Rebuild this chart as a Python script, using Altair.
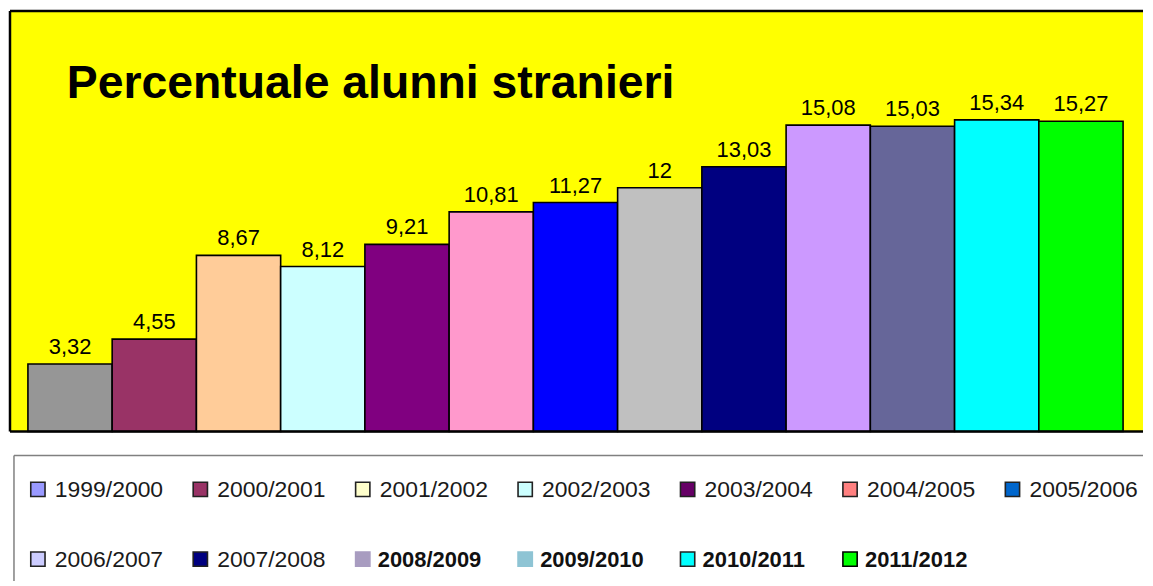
import altair as alt
import pandas as pd

years = ["1999/2000", "2000/2001", "2001/2002", "2002/2003", "2003/2004",
         "2004/2005", "2005/2006", "2006/2007", "2007/2008", "2008/2009",
         "2009/2010", "2010/2011", "2011/2012"]
values = [3.32, 4.55, 8.67, 8.12, 9.21, 10.81, 11.27, 12, 13.03, 15.08,
          15.03, 15.34, 15.27]
bar_colors = ["#969696", "#993366", "#FFCC99", "#CCFFFF", "#800080",
              "#FF99CC", "#0000FF", "#C0C0C0", "#000080", "#CC99FF",
              "#666699", "#00FFFF", "#00FF00"]
legend_colors = ["#9999FF", "#993366", "#FFFFCC", "#CCFFFF", "#660066",
                 "#FF8080", "#0066CC", "#CCCCFF", "#000080", "#A89CC0",
                 "#8EC4D4", "#00FFFF", "#00FF00"]
legend_border = ["#222222", "#222222", "#222222", "#222222", "#222222",
                 "#222222", "#222222", "#222222", "#222222", "#A89CC0",
                 "#8EC4D4", "#222222", "#000000"]
legend_bold = [False] * 9 + [True] * 4
legend_col = [0, 1, 2, 3, 4, 5, 6, 0, 1, 2, 3, 4, 5]
legend_row = [0, 0, 0, 0, 0, 0, 0, 1, 1, 1, 1, 1, 1]
title_text = "Percentuale alunni stranieri"

FONT = "Liberation Sans"
W = 1137
TOP_H = 422
LEG_H = 126

bars_df = pd.DataFrame({"year": years, "value": values})
leg_df = pd.DataFrame({"year": years, "col": legend_col, "row": legend_row,
                       "bold": legend_bold, "border": legend_border})
frame_df = pd.DataFrame({"k": [0]})

x_enc = alt.X("year:N", sort=years, axis=None,
              scale=alt.Scale(domain=years, range=[18, 1117],
                              paddingInner=0, paddingOuter=0))
y_enc = alt.Y("value:Q", axis=None, scale=alt.Scale(domain=[0, 20.7], nice=False))

base = alt.Chart(bars_df)
bars = base.mark_bar(stroke="black", strokeWidth=1.6).encode(
    x=x_enc, y=y_enc,
    color=alt.Color("year:N", legend=None,
                    scale=alt.Scale(domain=years, range=bar_colors)),
)
labels = base.transform_calculate(
    lab="replace('' + datum.value, '.', ',')"
).mark_text(font=FONT, fontSize=22, baseline="alphabetic", dy=-10,
            color="black").encode(x=x_enc, y=y_enc, text="lab:N")

title = alt.Chart(pd.DataFrame({"t": [title_text]})).mark_text(
    font=FONT, fontSize=46.5, fontWeight="bold", align="left",
    baseline="alphabetic", color="black"
).encode(x=alt.value(57), y=alt.value(87), text="t:N")

border_kw = dict(color="black", strokeWidth=2.5)
b_left = alt.Chart(frame_df).mark_rule(**border_kw).encode(
    x=alt.value(0), y=alt.value(0), y2=alt.value(TOP_H))
b_top = alt.Chart(frame_df).mark_rule(**border_kw).encode(
    x=alt.value(0), x2=alt.value(W), y=alt.value(0))
b_bot = alt.Chart(frame_df).mark_rule(**border_kw).encode(
    x=alt.value(0), x2=alt.value(W), y=alt.value(TOP_H))

top = alt.layer(bars, labels, title, b_left, b_top, b_bot).properties(
    width=W, height=TOP_H,
    view=alt.ViewBackground(fill="#FFFF00", stroke=None),
)

lx = alt.X("col:Q", axis=None, scale=alt.Scale(domain=[0, 6], range=[28, 1006]))
ly = alt.Y("row:Q", axis=None, scale=alt.Scale(domain=[0, 1], range=[34, 104]))
lbase = alt.Chart(leg_df)
squares = lbase.mark_square(size=205, strokeWidth=1.6, opacity=1).encode(
    x=lx, y=ly,
    fill=alt.Color("year:N", legend=None,
                   scale=alt.Scale(domain=years, range=legend_colors)),
    stroke=alt.Stroke("border:N", scale=None, legend=None),
)
ltext_reg = lbase.transform_filter("!datum.bold").mark_text(
    font=FONT, fontSize=23, align="left", baseline="alphabetic",
    dx=17, dy=8, color="#1a1a1a"
).encode(x=lx, y=ly, text="year:N")
ltext_bold = lbase.transform_filter("datum.bold").mark_text(
    font=FONT, fontSize=22, fontWeight="bold", align="left",
    baseline="alphabetic", dx=15, dy=8, color="#111111"
).encode(x=lx, y=ly, text="year:N")

left_rule = alt.Chart(frame_df).mark_rule(color="#808080", strokeWidth=1.5).encode(
    x=alt.value(4), y=alt.value(0), y2=alt.value(LEG_H))
top_rule = alt.Chart(frame_df).mark_rule(color="#808080", strokeWidth=1.5).encode(
    x=alt.value(4), x2=alt.value(W), y=alt.value(0))

legend = alt.layer(left_rule, top_rule, squares, ltext_reg, ltext_bold).properties(
    width=W, height=LEG_H,
    view=alt.ViewBackground(fill="white", stroke=None),
)

chart = alt.vconcat(top, legend, spacing=21).properties(
    padding=0, background="white"
).configure_view(strokeWidth=0)

chart.save("out.html", embed_options={"renderer": "svg", "actions": False})
